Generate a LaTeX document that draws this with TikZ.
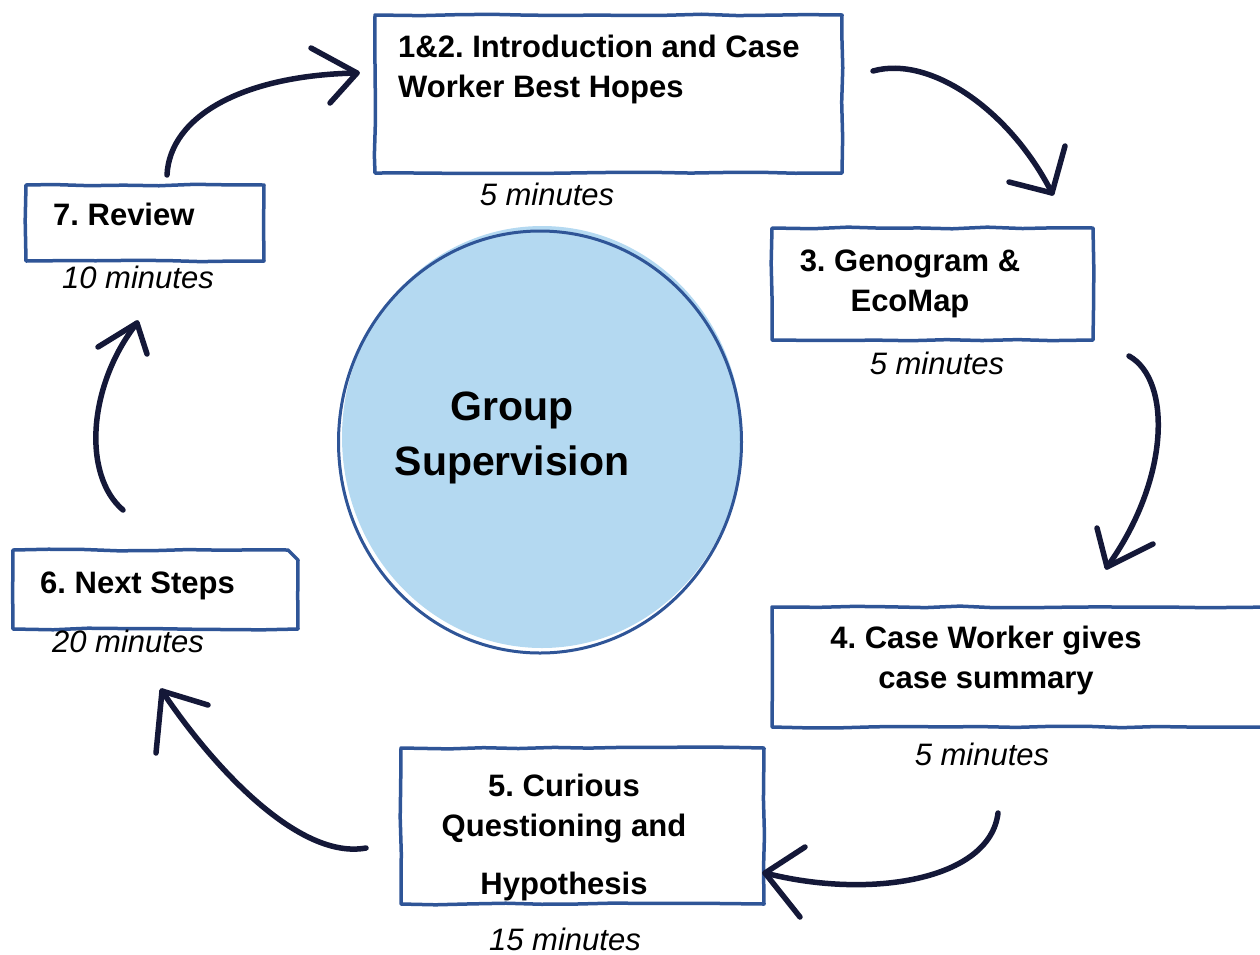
\documentclass[tikz,border=0pt]{standalone}
\usepackage{fontspec}
\setmainfont{Liberation Sans}
\usetikzlibrary{decorations.pathmorphing,shapes.geometric}

\definecolor{boxblue}{HTML}{2F5597}
\definecolor{discblue}{HTML}{B4D9F1}
\definecolor{ink}{HTML}{141838}

\frenchspacing
\begin{document}
\pgfmathsetseed{11}
\begin{tikzpicture}[x=1pt,y=-1pt,
  stage/.style={draw=boxblue, line width=3.5pt, line join=round, inner sep=0pt,
    decorate, decoration={random steps, segment length=35pt, amplitude=0.9pt}},
  title/.style={font=\fontsize{31}{40}\selectfont\bfseries, inner sep=0pt},
  timing/.style={font=\fontsize{31}{40}\selectfont\itshape, inner sep=0pt, anchor=base},
  flow/.style={draw=ink, line width=5.5pt, line cap=round, line join=round},
]
\useasboundingbox (0,0) rectangle (1260,954);

% central disc (multi-line nodes sit on the baseline of their last line)
\fill[discblue] (542,437) ellipse [x radius=200, y radius=211];
\node[ellipse, draw=boxblue, line width=3pt, minimum width=403, minimum height=422] (gs) at (540,442) {};
\node[title, font=\fontsize{41}{55}\selectfont\bfseries, align=center, anchor=base] (gst) at (512,475) {Group\\Supervision};

% stage boxes
\node[stage, minimum width=467, minimum height=158] (b1) at (608.5,94) {};
\node[stage, minimum width=238, minimum height=76] (b7) at (145,223) {};
\node[stage, minimum width=321, minimum height=112] (b3) at (932.5,284) {};
\node[stage, minimum width=503, minimum height=120] (b4) at (1023.5,667) {};
\node[stage, minimum width=363, minimum height=156] (b5) at (582.5,826) {};
\draw[stage] (13,550) -- (288,550) -- (298,560) -- (298,629) -- (13,629) -- cycle;
\coordinate (b6) at (155,590);

% stage titles
\node[title, align=left, anchor=base west] (t1) at (398,97) {1\&2. Introduction and Case\\Worker Best Hopes};
\node[title, anchor=base west] (t7) at (53,225) {7. Review};
\node[title, align=center, anchor=base] (t3) at (910,311) {3. Genogram \&\\EcoMap};
\node[title, align=center, anchor=base] (t4) at (986,688) {4. Case Worker gives\\case summary};
\node[title, align=center, anchor=base] (t5) at (564,894) {5. Curious\\Questioning and\\[18pt]Hypothesis};
\node[title, anchor=base west] (t6) at (40,593) {6. Next Steps};

% durations
\node[timing] (d1) at (547,205) {5 minutes};
\node[timing] (d7) at (138,288) {10 minutes};
\node[timing] (d3) at (937,374) {5 minutes};
\node[timing] (d4) at (982,765) {5 minutes};
\node[timing] (d5) at (565,950) {15 minutes};
\node[timing] (d6) at (128,652) {20 minutes};

% hand-drawn arrows between stages
\coordinate (a1s) at (167,175); \coordinate (a1t) at (357,73);
\draw[flow] (a1s) .. controls (170,115) and (245,75) .. (a1t);
\draw[flow] (a1t) ++(-46,-25) -- (a1t) -- ++(-27,30);

\coordinate (a2s) at (873,71); \coordinate (a2t) at (1052,193);
\draw[flow] (a2s) .. controls (930,55) and (1010,110) .. (a2t);
\draw[flow] (a2t) ++(-43,-11) -- (a2t) -- ++(13,-47);

\coordinate (a3s) at (1129,356); \coordinate (a3t) at (1107,567);
\draw[flow] (a3s) .. controls (1172,380) and (1170,480) .. (a3t);
\draw[flow] (a3t) ++(-10,-39) -- (a3t) -- ++(46,-23);

\coordinate (a4s) at (998,813); \coordinate (a4t) at (765,873);
\draw[flow] (a4s) .. controls (990,880) and (870,900) .. (a4t);
\draw[flow] (a4t) ++(40,-26) -- (a4t) -- ++(35,44);

\coordinate (a5s) at (366,848); \coordinate (a5t) at (162,691);
\draw[flow] (a5s) .. controls (300,860) and (215,770) .. (a5t);
\draw[flow] (a5t) ++(-6,62) -- (a5t) -- ++(46,14);

\coordinate (a6s) at (123,510); \coordinate (a6t) at (137,323);
\draw[flow] (a6s) .. controls (82,475) and (88,385) .. (a6t);
\draw[flow] (a6t) ++(-39,24) -- (a6t) -- ++(10,31);
\end{tikzpicture}
\end{document}
